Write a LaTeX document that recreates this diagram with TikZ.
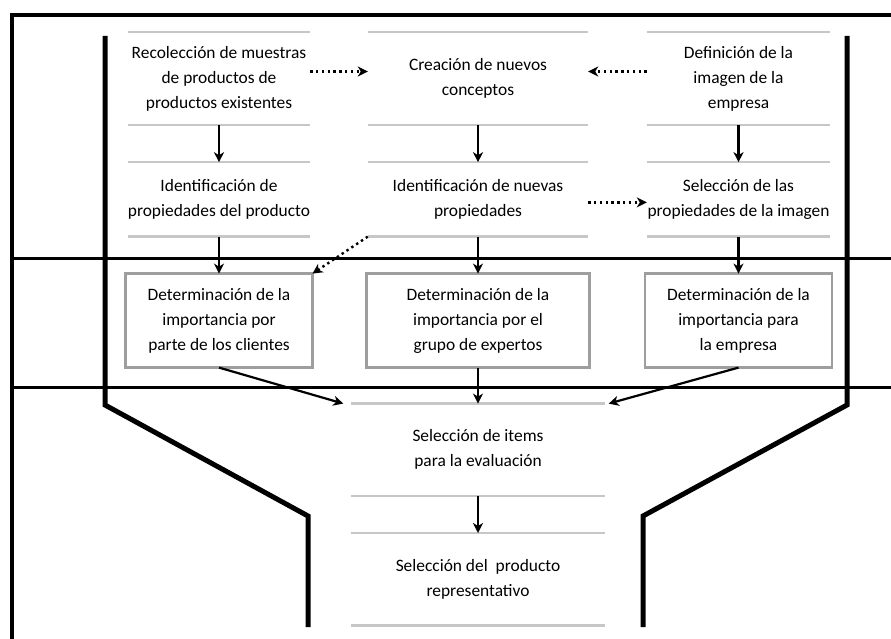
\documentclass[tikz,border=0pt]{standalone}
\usepackage{fontspec}
\setmainfont{Carlito}
\usetikzlibrary{arrows.meta, positioning, calc}

\begin{document}
\begin{tikzpicture}[x=1pt, y=-1pt, node distance=37pt, >={Stealth[length=10pt, width=10pt, inset=3pt]}, font=\fontsize{17.4}{25}\selectfont]
        % Estilos
        \tikzstyle{stage} = [rectangle, align=center, inner sep=0pt, minimum width=182pt]
        \tikzstyle{box} = [stage, draw=black!38, line width=2.6pt, outer sep=0pt, minimum width=187pt, minimum height=94pt]
        \tikzstyle{rule} = [draw=black!22, line width=2.4pt]
        \tikzstyle{flow} = [->, line width=2.2pt]
        \tikzstyle{hint} = [->, line width=2.4pt, dash pattern=on 2.4pt off 3.4pt]
        \tikzstyle{wall} = [line width=5pt, line join=miter]
        \tikzstyle{band} = [line width=3pt]

        \useasboundingbox (0,0) rectangle (891,639);

        % --- Marco y franjas ---
        \draw [band, line width=3.6pt] (12,639) -- (12,15) -- (891,15);
        \draw [band] (12,258) -- (891,258);
        \draw [band] (12,387) -- (891,387);

        % --- Embudo ---
        \draw [wall] (105,36) -- (105,405) -- (308,516) -- (308,627);
        \draw [wall] (847,36) -- (847,405) -- (643,516) -- (643,627);

        % --- Fila 1 ---
        \node [stage, minimum height=93pt] (rec) at (219,78.5) {Recolección de muestras\\ de productos de\\ productos existentes};
        \node [stage, minimum height=93pt, minimum width=220pt] (cre) at (478,78.5) {Creación de nuevos\\ conceptos};
        \node [stage, minimum height=93pt, minimum width=183pt] (def) at (738.5,78.5) {Definición de la\\ imagen de la\\ empresa};

        % --- Fila 2 ---
        \node [stage, minimum height=74pt, below=of rec] (idp) {Identificación de\\ propiedades del producto};
        \node [stage, minimum height=74pt, minimum width=220pt, below=of cre] (idn) {Identificación de nuevas\\ propiedades};
        \node [stage, minimum height=74pt, minimum width=183pt, below=of def] (sel) {Selección de las\\ propiedades de la imagen};

        % --- Importancia ---
        \node [box, below=of idp] (dcl) {Determinación de la\\ importancia por\\ parte de los clientes};
        \node [box, minimum width=223pt, below=of idn] (dex) {Determinación de la\\ importancia por el\\ grupo de expertos};
        \node [box, below=of sel] (dem) {Determinación de la\\ importancia para\\ la empresa};

        % --- Seleccion final ---
        \node [stage, minimum height=92pt, minimum width=253pt, below=36pt of dex] (its) {Selección de items\\ para la evaluación};
        \node [stage, minimum height=92pt, minimum width=253pt, below=of its] (rep) {Selección del~ producto\\ representativo};

        % lineas grises
        \foreach \n in {rec, cre, def, idp, idn, sel, its, rep}
            \draw [rule] (\n.north west) -- (\n.north east) (\n.south west) -- (\n.south east);

        % --- Flechas ---
        \draw [flow] (rec) -- (idp);
        \draw [flow] (cre) -- (idn);
        \draw [flow] (def) -- (sel);
        \draw [flow] (idp) -- (dcl);
        \draw [flow] (idn) -- (dex);
        \draw [flow] (sel) -- (dem);
        \draw [flow] (dcl.south) -- ([xshift=-8pt]its.north west);
        \draw [flow] (dex) -- (its);
        \draw [flow] (dem.south) -- ([xshift=4pt]its.north east);
        \draw [flow] (its) -- (rep);

        \draw [hint] ([yshift=7pt]rec.east) -- ([yshift=7pt]cre.west);
        \draw [hint] ([yshift=7pt]def.west) -- ([yshift=7pt]cre.east);
        \draw [hint] ([yshift=-3pt]idn.east) -- ([yshift=-3pt]sel.west);
        \draw [hint] (idn.south west) -- (dcl.north east);

    \end{tikzpicture}
\end{document}
